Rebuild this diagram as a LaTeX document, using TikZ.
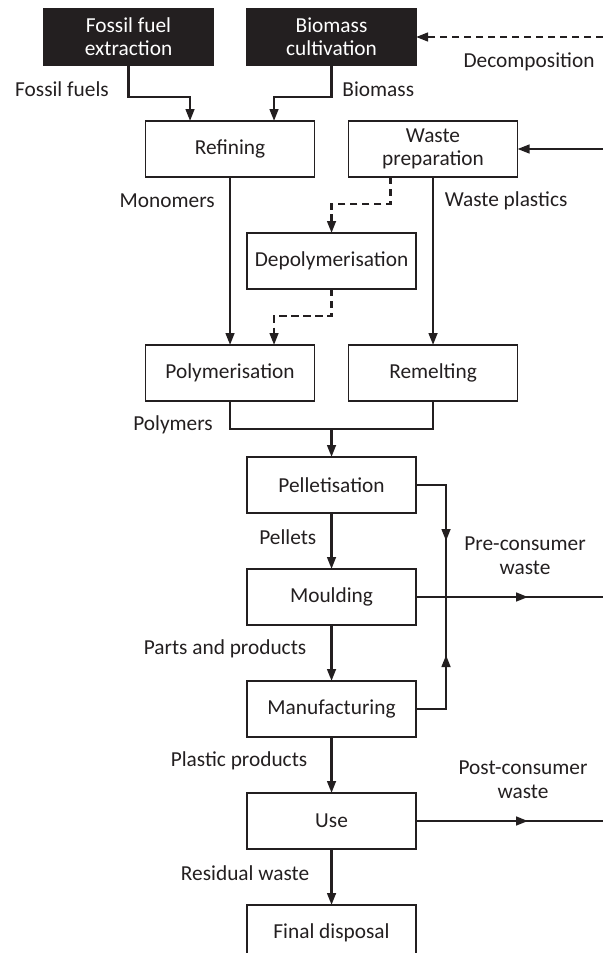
\documentclass[tikz,border=0pt]{standalone}
\usepackage{fontspec}
\setmainfont{Carlito}
\usetikzlibrary{arrows.meta, positioning, calc}
\definecolor{mydark}{RGB}{35,31,32}
\tikzset{
  arrow/.style={-{Triangle[length=9pt,width=6.5pt]}, line width=1.8pt, color=mydark},
  darrow/.style={arrow, dash pattern=on 5.5pt off 3.5pt},
  line/.style={line width=1.8pt, color=mydark}
}

\begin{document}
\begin{tikzpicture}[node distance=42pt and 25.5pt,
  box/.style={rectangle, draw=mydark, line width=0.9pt, outer sep=0pt, minimum width=126.75pt, minimum height=42pt, inner sep=0pt, align=center, text=mydark, font=\fontsize{16}{17.5}\selectfont},
  darkbox/.style={box, fill=mydark, text=white},
  lbl/.style={inner sep=0pt, align=center, text=mydark, font=\fontsize{16}{18}\selectfont}]

  \useasboundingbox (0,0) rectangle (452.25pt,-714.75pt);
  \coordinate (edge) at (452.25pt,0);

  % Nodes
  \node[darkbox] (fossil) at (96.4pt,-27.75pt) {Fossil fuel\\extraction};
  \node[darkbox, right=of fossil] (biomass) {Biomass\\cultivation};
  \coordinate (topmid) at ($(fossil.south)!0.5!(biomass.south)$);

  \node[box, below=of topmid] (refine) {Refining};
  \node[box, right=of refine] (wprep) {Waste\\preparation};
  \coordinate (midtop) at ($(refine.south)!0.5!(wprep.south)$);

  \node[box, below=of midtop] (depoly) {Depolymerisation};
  \node[box, below=126pt of refine] (poly) {Polymerisation};
  \node[box, right=of poly] (remelt) {Remelting};
  \coordinate (join) at ($($(poly.south)!0.5!(remelt.south)$)+(0,-21pt)$);

  \node[box, below=21pt of join] (pellet) {Pelletisation};
  \node[box, below=of pellet] (mould) {Moulding};
  \node[box, below=of mould] (manuf) {Manufacturing};
  \node[box, below=of manuf] (use) {Use};
  \node[box, below=of use] (disposal) {Final disposal};

  % Labels
  \node[lbl, anchor=east] at ($(fossil.south)+(-14.6pt,-18pt)$) {Fossil fuels};
  \node[lbl, anchor=west] at ($(biomass.south)+(8pt,-18pt)$) {Biomass};
  \node[lbl] at ($(biomass.east)+(84.75pt,-18.75pt)$) {Decomposition};
  \node[lbl, anchor=east] at ($(refine.south)+(-11.25pt,-18pt)$) {Monomers};
  \node[lbl, anchor=west] at ($(wprep.south)+(8.6pt,-18pt)$) {Waste plastics};
  \node[lbl, anchor=east] at ($(poly.south)+(-12.75pt,-18pt)$) {Polymers};
  \node[lbl, anchor=east] at ($(pellet.south)+(-11.25pt,-18pt)$) {Pellets};
  \node[lbl] at ($(mould.east)+(81.75pt,30.75pt)$) {Pre-consumer\\waste};
  \node[lbl, anchor=east] at ($(mould.south)+(-18.75pt,-18pt)$) {Parts and products};
  \node[lbl, anchor=east] at ($(manuf.south)+(-18pt,-18pt)$) {Plastic products};
  \node[lbl] at ($(use.east)+(80.25pt,30.75pt)$) {Post-consumer\\waste};
  \node[lbl, anchor=east] at ($(use.south)+(-16.5pt,-18pt)$) {Residual waste};

  % Arrows
  \draw[arrow] (fossil.south) -- ++(0,-24pt) -| ($(refine.north)+(-30pt,0)$);
  \draw[arrow] (biomass.south) -- ++(0,-24pt) -| ($(refine.north)+(33pt,0)$);
  \draw[darrow] (biomass.east -| edge) -- (biomass.east);
  \draw[arrow] (wprep.east -| edge) -- (wprep.east);

  \draw[arrow] (refine) -- (poly);
  \draw[arrow] (wprep) -- (remelt);
  \draw[darrow] ($(wprep.south)+(-32pt,0)$) -- ++(0,-20.25pt) -| (depoly.north);
  \draw[darrow] (depoly.south) -- ++(0,-20.25pt) -| ($(poly.north)+(33pt,0)$);

  \draw[line] (poly.south) |- (join) -| (remelt.south);
  \draw[arrow] (join) -- (pellet);
  \draw[arrow] (pellet) -- (mould);
  \draw[arrow] (mould) -- (manuf);
  \draw[arrow] (manuf) -- (use);
  \draw[arrow] (use) -- (disposal);

  \coordinate (pretop) at ($(pellet.east)+(22.5pt,0)$);
  \coordinate (prebot) at ($(manuf.east)+(22.5pt,0)$);
  \draw[line] (pellet.east) -- (pretop) -- (prebot) -- (manuf.east);
  \draw[arrow] (pretop) -- ++(0,-42pt);
  \draw[arrow] (prebot) -- ++(0,40.5pt);
  \draw[line] (mould.east) -- (mould.east -| edge);
  \draw[arrow] (mould.east) -- ++(84pt,0);
  \draw[line] (use.east) -- (use.east -| edge);
  \draw[arrow] (use.east) -- ++(84pt,0);

\end{tikzpicture}
\end{document}
